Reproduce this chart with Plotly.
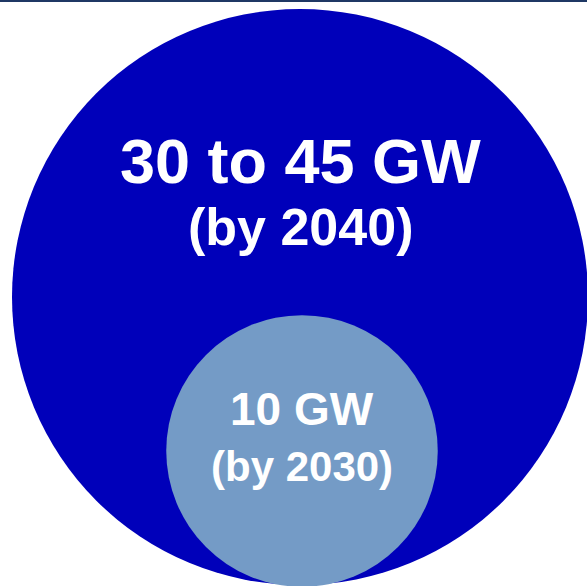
import math
import plotly.graph_objects as go

# ---- data ----
labels = ["30 to 45 GW", "10 GW"]
sublabels = ["(by 2040)", "(by 2030)"]
capacity_gw = [45, 10]          # upper value of each target

# ---- layout constants ----
W, H = 587, 586
BIG_R = 288
centers = [(300, 297), (302, 451)]
fills = ["#0000BA", "#749BC6"]
vmax = max(capacity_gw)
radii = [BIG_R * math.sqrt(v / vmax) for v in capacity_gw]

label_sizes = [63, 46]
sub_sizes = [52, 42]
label_y = [160.5, 409]
sub_y = [227, 466]

fig = go.Figure()
fig.add_trace(go.Scatter(x=[0, W], y=[0, H], mode="markers",
                         marker=dict(opacity=0), hoverinfo="skip", showlegend=False))

shapes = []
for (cx, cy), r, c in zip(centers, radii, fills):
    shapes.append(dict(type="circle", xref="x", yref="y",
                       x0=cx - r, x1=cx + r, y0=cy - r, y1=cy + r,
                       fillcolor=c, line=dict(width=0), layer="below"))
shapes.append(dict(type="line", xref="x", yref="y", x0=0, x1=W, y0=1, y1=1,
                   line=dict(color="#1F3864", width=2)))

font_family = "Arial, Liberation Sans, sans-serif"
annotations = []
for i in range(len(labels)):
    cx = centers[i][0]
    annotations.append(dict(x=cx, y=label_y[i], xref="x", yref="y", text=f"<b>{labels[i]}</b>",
                            showarrow=False, xanchor="center", yanchor="middle",
                            font=dict(family=font_family, size=label_sizes[i], color="white")))
    annotations.append(dict(x=cx, y=sub_y[i], xref="x", yref="y", text=f"<b>{sublabels[i]}</b>",
                            showarrow=False, xanchor="center", yanchor="middle",
                            font=dict(family=font_family, size=sub_sizes[i], color="white")))

fig.update_layout(
    width=W, height=H, margin=dict(l=0, r=0, t=0, b=0),
    paper_bgcolor="white", plot_bgcolor="white",
    xaxis=dict(range=[0, W], visible=False, fixedrange=True),
    yaxis=dict(range=[H, 0], visible=False, fixedrange=True),
    shapes=shapes, annotations=annotations, showlegend=False,
)
fig.write_html("out.html")
